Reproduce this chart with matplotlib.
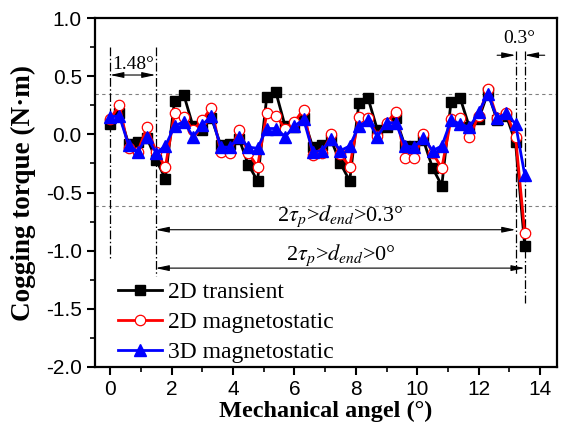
import numpy as np
import matplotlib
matplotlib.use("Agg")
import matplotlib.pyplot as plt

plt.rcParams["mathtext.fontset"] = "stix"

# mechanical angle (deg), 0.3 deg step
angle = [round(0.3 * i, 1) for i in range(46)]

transient_2d = [0.09, 0.18, -0.08, -0.07, -0.03, -0.22, -0.38, 0.29, 0.34, 0.07,
                0.04, 0.14, -0.09, -0.08, -0.04, -0.26, -0.40, 0.32, 0.36, 0.07,
                0.06, 0.14, -0.11, -0.09, -0.05, -0.25, -0.40, 0.27, 0.31, 0.04,
                0.06, 0.14, -0.10, -0.10, -0.05, -0.29, -0.44, 0.28, 0.31, 0.06,
                0.13, 0.36, 0.12, 0.16, -0.07, -0.96]
static_2d = [0.13, 0.25, -0.12, -0.15, 0.06, -0.15, -0.28, 0.18, 0.15, 0.04,
             0.12, 0.23, -0.15, -0.16, 0.04, -0.16, -0.28, 0.18, 0.16, 0.05,
             0.11, 0.21, -0.18, -0.16, 0.00, -0.17, -0.28, 0.15, 0.14, -0.01,
             0.10, 0.19, -0.20, -0.20, 0.00, -0.16, -0.29, 0.13, 0.14, -0.02,
             0.16, 0.39, 0.14, 0.18, -0.02, -0.85]
static_3d = [0.15, 0.16, -0.09, -0.15, -0.02, -0.16, -0.10, 0.07, 0.11, -0.02,
             0.08, 0.16, -0.11, -0.11, -0.02, -0.11, -0.12, 0.05, 0.05, -0.02,
             0.07, 0.13, -0.15, -0.14, -0.04, -0.14, -0.10, 0.07, 0.12, -0.02,
             0.10, 0.10, -0.10, -0.11, -0.03, -0.14, -0.10, 0.12, 0.09, 0.06,
             0.19, 0.35, 0.14, 0.18, 0.09, -0.35]

labels = ["2D transient", "2D magnetostatic", "3D magnetostatic"]
ref_levels = [0.35, -0.62]

serif = "Liberation Serif"
sans = "Liberation Sans"

fig = plt.figure(figsize=(5.7, 4.34), dpi=100)
ax = fig.add_axes([0.1667, 0.1544, 0.8105, 0.8041])

for lv in ref_levels:
    ax.axhline(lv, color="gray", lw=0.8, ls=(0, (3, 3)), zorder=1)

ax.plot(angle, transient_2d, color="black", lw=2, marker="s", ms=6.5,
        label=labels[0], zorder=3)
ax.plot(angle, static_2d, color="red", lw=2, marker="o", ms=7.5, mfc="white",
        mec="red", mew=0.9, label=labels[1], zorder=4)
ax.plot(angle, static_3d, color="blue", lw=2, marker="^", ms=8.5,
        label=labels[2], zorder=5)

# dash-dot guide lines
dd = dict(color="black", lw=0.9, ls=(0, (7, 2, 1.2, 2)), zorder=2)
ax.plot([0.0, 0.0], [0.75, -1.07], **dd)
ax.plot([1.48, 1.48], [0.75, -1.22], **dd)
ax.plot([13.2, 13.2], [0.72, -1.2], **dd)
ax.plot([13.5, 13.5], [0.72, -1.45], **dd)

arr = dict(arrowstyle="<|-|>,head_length=0.8,head_width=0.17", color="black",
           lw=0.8, shrinkA=0, shrinkB=0)
ax.annotate("", xy=(0.0, 0.51), xytext=(1.48, 0.51), arrowprops=arr)
ax.annotate("", xy=(1.48, -0.82), xytext=(13.2, -0.82), arrowprops=arr)
ax.annotate("", xy=(1.48, -1.15), xytext=(13.5, -1.15), arrowprops=arr)

one = dict(arrowstyle="-|>,head_length=0.8,head_width=0.17", color="black",
           lw=0.8, shrinkA=0, shrinkB=0)
ax.annotate("", xy=(13.2, 0.68), xytext=(12.6, 0.68), arrowprops=one)
ax.annotate("", xy=(13.5, 0.68), xytext=(14.15, 0.68), arrowprops=one)

ax.text(0.74, 0.6, "1.48°", family=serif, fontsize=14, ha="center", va="center")
ax.text(13.33, 0.82, "0.3°", family=serif, fontsize=14, ha="center", va="center")
ax.text(7.5, -0.7, r"2$\tau_p$>$d_{end}$>0.3°", family=serif, fontsize=16,
        ha="center", va="center")
ax.text(7.5, -1.04, r"2$\tau_p$>$d_{end}$>0°", family=serif, fontsize=16,
        ha="center", va="center")

ax.set_xlim(-0.49, 14.55)
ax.set_ylim(-2.0, 1.0)
ax.set_xticks(np.arange(0, 15, 2))
ax.set_xticks(np.arange(0, 15, 1), minor=True)
ax.set_yticks(np.arange(-2.0, 1.01, 0.5))
ax.set_yticks(np.arange(-2.0, 1.01, 0.25), minor=True)
ax.set_yticklabels([f"{v:.1f}" for v in np.arange(-2.0, 1.01, 0.5)])
ax.tick_params(which="major", direction="out", length=6, width=1.5,
               labelsize=15, top=False, right=False)
ax.tick_params(which="minor", direction="out", length=3.5, width=1.2)
for lab in ax.get_xticklabels() + ax.get_yticklabels():
    lab.set_family(sans)
for sp in ax.spines.values():
    sp.set_linewidth(1.6)

ax.set_xlabel("Mechanical angel (°)", family=serif, fontsize=17.5,
              fontweight="bold", labelpad=1)
ax.set_ylabel("Cogging torque (N·m)", family=serif, fontsize=19.5,
              fontweight="bold", labelpad=7)

ax.legend(loc="lower left", bbox_to_anchor=(0.03, -0.015), frameon=False,
          prop={"family": serif, "size": 17}, handlelength=1.85,
          labelspacing=0.35, handletextpad=0.25, borderaxespad=0.0)

fig.savefig("out.png", dpi=100)
